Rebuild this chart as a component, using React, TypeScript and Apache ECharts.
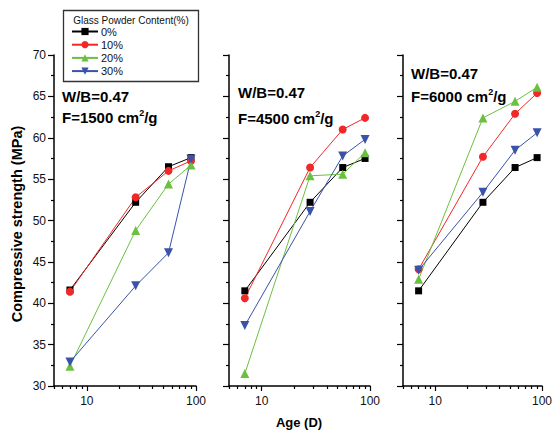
import React, { useEffect, useRef } from "react";
import * as echarts from "echarts";

const days = [7, 28, 56, 90];
const seriesNames = ["0%", "10%", "20%", "30%"];
const panelLabels = ["F=1500 cm", "F=4500 cm", "F=6000 cm"];

// Fineness 1500 cm2/g
const p1_0 = [41.6, 52.2, 56.5, 57.6];
const p1_10 = [41.4, 52.8, 56.0, 57.2];
const p1_20 = [32.4, 48.8, 54.4, 56.7];
const p1_30 = [32.9, 42.1, 46.1, 57.4];
// Fineness 4500 cm2/g
const p2_0 = [41.5, 52.2, 56.4, 57.5];
const p2_10 = [40.6, 56.4, 61.0, 62.4];
const p2_20 = [31.5, 55.4, 55.6, 58.2];
const p2_30 = [37.3, 51.1, 57.8, 59.8];
// Fineness 6000 cm2/g
const p3_0 = [41.5, 52.2, 56.4, 57.6];
const p3_10 = [44.1, 57.7, 62.9, 65.4];
const p3_20 = [42.9, 62.4, 64.4, 66.1];
const p3_30 = [44.0, 53.4, 58.5, 60.6];

const majorXTicks = [10, 100];
const minorXTicks = [5, 6, 7, 8, 9, 20, 30, 40, 50, 60, 70, 80, 90];

const FONT = "Liberation Sans, Arial, sans-serif";
const colors = ["#000000", "#f02828", "#6cc040", "#3a52a8"];
const symbols = ["rect", "circle", "triangle", "triangle"];
const symbolSizes = [7, 8, 9, 9];
const symbolRotates = [0, 0, 0, 180];

const grids = [
  { left: 54, top: 55, width: 142, height: 331 },
  { left: 229, top: 55, width: 141, height: 331 },
  { left: 403, top: 55, width: 142, height: 331 },
];

export default function App() {
  const ref = useRef<HTMLDivElement>(null);
  useEffect(() => {
    if (!ref.current) return;
    const chart = echarts.init(ref.current, undefined, { renderer: "svg" });
    const panels = [
      [p1_0, p1_10, p1_20, p1_30],
      [p2_0, p2_10, p2_20, p2_30],
      [p3_0, p3_10, p3_20, p3_30],
    ];
    const xAxes: any[] = [];
    const yAxes: any[] = [];
    grids.forEach((_, i) => {
      xAxes.push({
        type: "log",
        logBase: 10,
        gridIndex: i,
        min: 5,
        max: 100,
        position: "bottom",
        axisLine: { show: true, lineStyle: { color: "#000", width: 1.5 } },
        axisTick: { show: true, inside: false, length: 5, customValues: majorXTicks, lineStyle: { color: "#000", width: 1.2 } },
        axisLabel: { show: true, customValues: majorXTicks, margin: 9, fontSize: 12, color: "#111", fontFamily: FONT },
        splitLine: { show: false },
        minorTick: { show: false },
      });
      yAxes.push({
        type: "value",
        gridIndex: i,
        min: 30,
        max: 70,
        interval: 5,
        axisLine: { show: true, lineStyle: { color: "#000", width: 1.5 } },
        axisTick: { show: true, inside: false, length: 6, lineStyle: { color: "#000", width: 1.2 } },
        minorTick: { show: true, splitNumber: 2, length: 3, lineStyle: { color: "#000", width: 1.2 } },
        axisLabel: { show: i === 0, margin: 8, fontSize: 12, color: "#111", fontFamily: FONT },
        splitLine: { show: false },
      });
    });
    grids.forEach((_, i) => {
      xAxes.push({
        type: "log",
        logBase: 10,
        gridIndex: i,
        min: 5,
        max: 100,
        position: "bottom",
        axisLine: { show: false },
        axisTick: { show: true, inside: false, length: 3, customValues: minorXTicks, lineStyle: { color: "#000", width: 1.2 } },
        axisLabel: { show: false },
        splitLine: { show: false },
      });
    });

    const series: any[] = [];
    panels.forEach((panel, pi) => {
      panel.forEach((vals, si) => {
        series.push({
          type: "line",
          name: seriesNames[si],
          xAxisIndex: pi,
          yAxisIndex: pi,
          data: days.map((d, k) => [d, vals[k]]),
          symbol: symbols[si],
          symbolSize: symbolSizes[si],
          symbolRotate: symbolRotates[si],
          lineStyle: { color: colors[si], width: 1 },
          itemStyle: { color: colors[si] },
          emphasis: { disabled: true },
        });
      });
    });

    const boldText = { fontFamily: FONT, fontWeight: "bold", fontSize: 15, fill: "#000" };
    const annot = (x: number, y1: number, y2: number, label: string) => [
      { type: "text", x, y: y1, style: { ...boldText, text: "W/B=0.47", verticalAlign: "middle" } },
      {
        type: "text",
        x,
        y: y2,
        style: {
          text: `{a|${label}}{s|2}{a|/g}`,
          verticalAlign: "middle",
          rich: {
            a: { fontFamily: FONT, fontWeight: "bold", fontSize: 15, color: "#000" },
            s: { fontFamily: FONT, fontWeight: "bold", fontSize: 9, color: "#000", verticalAlign: "top", padding: [0, 0, 8, 0] },
          },
        },
      },
    ];

    chart.setOption({
      animation: false,
      backgroundColor: "#fff",
      grid: grids.map((g) => ({ ...g, containLabel: false })),
      xAxis: xAxes,
      yAxis: yAxes,
      legend: {
        data: seriesNames,
        orient: "vertical",
        left: 71,
        top: 26,
        padding: 0,
        itemWidth: 26,
        itemHeight: 9,
        itemGap: 2.2,
        selectedMode: false,
        textStyle: { fontFamily: FONT, fontSize: 11, color: "#111", padding: [0, 0, 0, -2] },
      },
      series,
      graphic: [
        { type: "rect", shape: { x: 63.5, y: 10.5, width: 135, height: 71 }, style: { fill: "none", stroke: "#333", lineWidth: 1.3 } },
        { type: "text", x: 131, y: 20, style: { text: "Glass Powder Content(%)", fontFamily: FONT, fontSize: 10, fill: "#111", align: "center", verticalAlign: "middle" } },
        ...annot(62, 96.5, 117, panelLabels[0]),
        ...annot(238, 92.5, 118, panelLabels[1]),
        ...annot(411, 73, 96, panelLabels[2]),
        { type: "text", x: 17, y: 224, rotation: Math.PI / 2, style: { ...boldText, fontSize: 14.5, text: "Compressive strength (MPa)", align: "center", verticalAlign: "middle" } },
        { type: "text", x: 299, y: 422, style: { ...boldText, fontSize: 13, text: "Age (D)", align: "center", verticalAlign: "middle" } },
      ],
    });
    return () => chart.dispose();
  }, []);
  return <div ref={ref} style={{ position: "fixed", left: 0, top: 0, width: 555, height: 431 }} />;
}
